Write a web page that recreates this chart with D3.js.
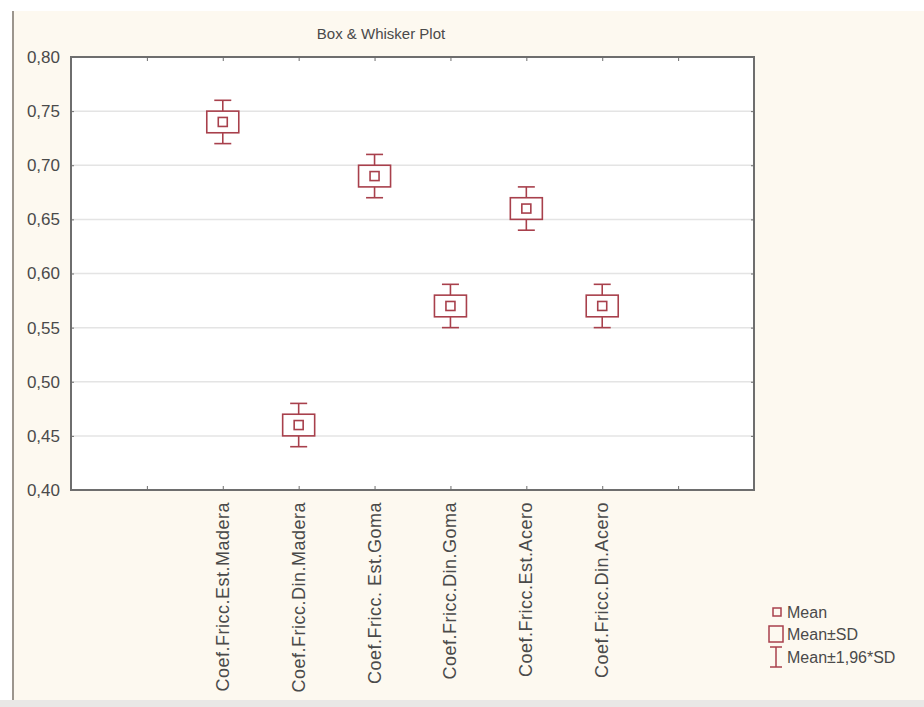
<!DOCTYPE html>
<html><head><meta charset="utf-8">
<script src="https://cdn.jsdelivr.net/npm/d3@7"></script>
<style>body{margin:0;background:#fff}svg{display:block}text{font-family:"Liberation Sans",Arial,sans-serif}</style>
</head><body><svg id="c" width="924" height="707"></svg>
<script>
const categories = ["Coef.Fricc.Est.Madera","Coef.Fricc.Din.Madera","Coef.Fricc. Est.Goma","Coef.Fricc.Din.Goma","Coef.Fricc.Est.Acero","Coef.Fricc.Din.Acero"];
const means   = [0.74, 0.46, 0.69, 0.57, 0.66, 0.57];
const sds     = [0.01, 0.01, 0.01, 0.01, 0.01, 0.01];
const ciHalf  = [0.02, 0.02, 0.02, 0.02, 0.02, 0.02];
const yTicks  = [0.40,0.45,0.50,0.55,0.60,0.65,0.70,0.75,0.80];
const xTickSlots = [1,2,3,4,5,6,7,8];
const legendLabels = ["Mean","Mean±SD","Mean±1,96*SD"];

const red = "#a8404c", axisCol = "#6e6e6e", textCol = "#4a4a4a";
const svg = d3.select("#c");
const L = 71, R = 754, T = 57, B = 490;

// backgrounds
svg.append("rect").attr("x",0).attr("y",0).attr("width",924).attr("height",707).attr("fill","#ffffff");
svg.append("rect").attr("x",13).attr("y",11).attr("width",911).attr("height",689).attr("fill","#fdf9f0");
svg.append("line").attr("x1",13).attr("x2",13).attr("y1",11).attr("y2",700).attr("stroke","#9c968e").attr("stroke-width",2);
svg.append("rect").attr("x",0).attr("y",700).attr("width",924).attr("height",7).attr("fill","#e9e8e6");

const y = d3.scaleLinear().domain([0.40,0.80]).range([B,T]);
const x = d3.scaleLinear().domain([0,9]).range([L,R]);
const cx = i => x(i+2);

svg.append("rect").attr("x",L).attr("y",T).attr("width",R-L).attr("height",B-T).attr("fill","#fff");

// gridlines
svg.append("g").selectAll("line").data(yTicks.slice(1,-1)).join("line")
  .attr("x1",L).attr("x2",R).attr("y1",d=>y(d)).attr("y2",d=>y(d))
  .attr("stroke","#e4e4e4").attr("stroke-width",1.5);

// frame
svg.append("rect").attr("x",L).attr("y",T).attr("width",R-L).attr("height",B-T)
  .attr("fill","none").attr("stroke",axisCol).attr("stroke-width",2);

// y axis
const yAxis = d3.axisLeft(y).tickValues(yTicks).tickSize(-3).tickPadding(11)
  .tickFormat(d=>d3.format(".2f")(d).replace(".",","));
const gy = svg.append("g").attr("transform",`translate(${L},0)`).call(yAxis);
gy.select(".domain").remove();
gy.selectAll("line").attr("stroke",axisCol);
gy.selectAll("text").attr("font-size",17).attr("fill",textCol).attr("font-family","'Liberation Sans',Arial,sans-serif");
const gyr = svg.append("g").attr("transform",`translate(${R},0)`).call(d3.axisRight(y).tickValues(yTicks).tickSize(-3).tickFormat(""));
gyr.select(".domain").remove(); gyr.selectAll("line").attr("stroke",axisCol);

// x axis ticks (bottom and top)
const gxb = svg.append("g").attr("transform",`translate(0,${B})`).call(d3.axisBottom(x).tickValues(xTickSlots).tickSize(-4).tickFormat(""));
gxb.select(".domain").remove(); gxb.selectAll("line").attr("stroke",axisCol);
const gxt = svg.append("g").attr("transform",`translate(0,${T})`).call(d3.axisTop(x).tickValues(xTickSlots).tickSize(-4).tickFormat(""));
gxt.select(".domain").remove(); gxt.selectAll("line").attr("stroke",axisCol);

// category labels
svg.append("g").selectAll("text").data(categories).join("text")
  .attr("transform",(d,i)=>`translate(${cx(i)+6},${B+12}) rotate(-90)`)
  .attr("text-anchor","end").attr("font-size",18).attr("letter-spacing",0.5).attr("fill",textCol).text(d=>d);

// title
svg.append("text").attr("x",381).attr("y",39).attr("text-anchor","middle")
  .attr("font-size",15).attr("fill",textCol).text("Box & Whisker Plot");

// boxes
const bw = 32, cw = 17, mw = 9;
const g = svg.append("g").attr("stroke",red).attr("fill","none").attr("stroke-width",1.6);
categories.forEach((c,i)=>{
  const X = cx(i), m = means[i], s = sds[i], w = ciHalf[i];
  g.append("line").attr("x1",X).attr("x2",X).attr("y1",y(m+w)).attr("y2",y(m+s));
  g.append("line").attr("x1",X).attr("x2",X).attr("y1",y(m-s)).attr("y2",y(m-w));
  g.append("line").attr("x1",X-cw/2).attr("x2",X+cw/2).attr("y1",y(m+w)).attr("y2",y(m+w));
  g.append("line").attr("x1",X-cw/2).attr("x2",X+cw/2).attr("y1",y(m-w)).attr("y2",y(m-w));
  g.append("rect").attr("x",X-bw/2).attr("y",y(m+s)).attr("width",bw).attr("height",y(m-s)-y(m+s));
  g.append("rect").attr("x",X-mw/2).attr("y",y(m)-mw/2).attr("width",mw).attr("height",mw);
});

// legend
const lg = svg.append("g");
const ly = [612, 634, 657];
lg.append("rect").attr("x",773).attr("y",ly[0]-4).attr("width",8).attr("height",8).attr("fill","none").attr("stroke",red).attr("stroke-width",1.5);
lg.append("rect").attr("x",769).attr("y",ly[1]-8).attr("width",14).attr("height",16).attr("fill","none").attr("stroke",red).attr("stroke-width",1.5);
lg.append("line").attr("x1",776).attr("x2",776).attr("y1",ly[2]-10).attr("y2",ly[2]+10).attr("stroke",red).attr("stroke-width",1.5);
lg.append("line").attr("x1",770).attr("x2",782).attr("y1",ly[2]-10).attr("y2",ly[2]-10).attr("stroke",red).attr("stroke-width",1.5);
lg.append("line").attr("x1",770).attr("x2",782).attr("y1",ly[2]+10).attr("y2",ly[2]+10).attr("stroke",red).attr("stroke-width",1.5);
lg.selectAll("text").data(legendLabels).join("text")
  .attr("x",787).attr("y",(d,i)=>ly[i]+6).attr("font-size",16).attr("fill",textCol).text(d=>d);
</script></body></html>
